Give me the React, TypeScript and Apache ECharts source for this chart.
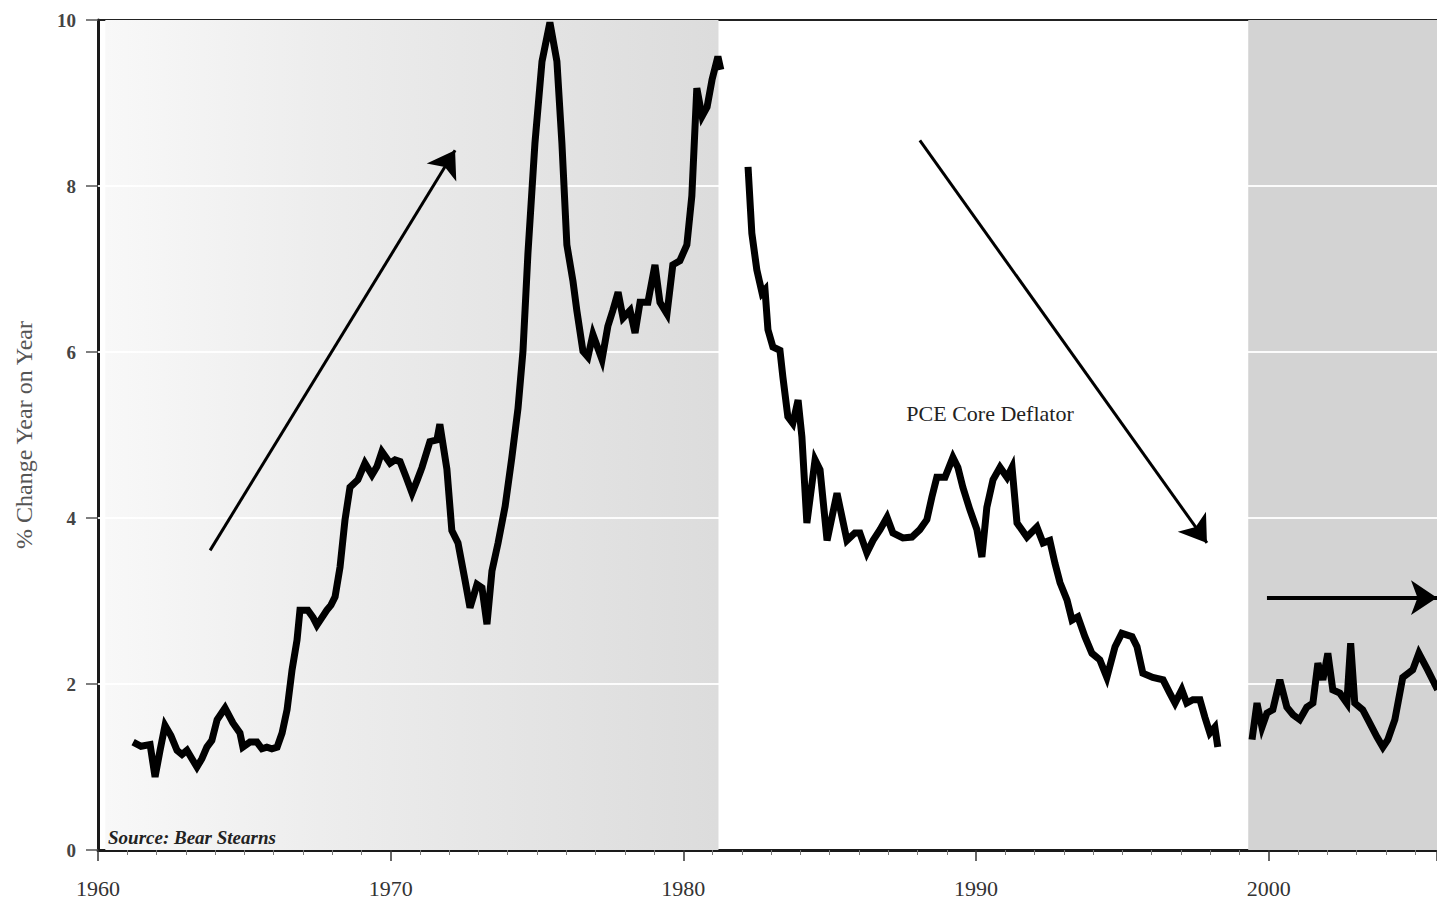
import React, { useEffect, useRef } from "react";
import * as echarts from "echarts";

// ---- Data ----
const seg1Years = [
  1961.2, 1961.47, 1961.78, 1961.95, 1962.12, 1962.29, 1962.49, 1962.7, 1962.87, 1963.04,
  1963.21, 1963.38, 1963.55, 1963.72, 1963.89, 1964.07, 1964.34, 1964.61, 1964.85, 1964.95,
  1965.19, 1965.43, 1965.6, 1965.77, 1965.94, 1966.12, 1966.29, 1966.46, 1966.63, 1966.8,
  1966.9, 1967.17, 1967.35, 1967.48, 1967.65, 1967.82, 1967.96, 1968.1, 1968.27, 1968.44,
  1968.61, 1968.88, 1969.12, 1969.36, 1969.53, 1969.7, 1969.98, 1970.15, 1970.32, 1970.52,
  1970.73, 1970.9, 1971.07, 1971.34, 1971.58, 1971.68, 1971.92, 1972.09, 1972.3, 1972.54,
  1972.71, 1972.95, 1973.12, 1973.29, 1973.46, 1973.67, 1973.91, 1974.14, 1974.35, 1974.52,
  1974.69, 1974.93, 1975.17, 1975.44, 1975.68, 1975.85, 1976.02, 1976.23, 1976.36, 1976.57,
  1976.74, 1976.91, 1977.22, 1977.42, 1977.59, 1977.77, 1977.94, 1978.18, 1978.35, 1978.52,
  1978.79, 1979.03, 1979.2, 1979.44, 1979.64, 1979.88, 1980.12, 1980.29, 1980.46, 1980.64,
  1980.81, 1980.98, 1981.18, 1981.28,
];
const seg1Values = [
  1.3, 1.25, 1.27, 0.88, 1.2, 1.5, 1.38, 1.2, 1.15, 1.2,
  1.1, 1.0, 1.1, 1.24, 1.32, 1.57, 1.71, 1.53, 1.41, 1.24,
  1.3, 1.3, 1.22, 1.24, 1.22, 1.24, 1.41, 1.69, 2.17, 2.53,
  2.89, 2.89, 2.8, 2.71, 2.8, 2.89, 2.95, 3.05, 3.41, 3.98,
  4.37, 4.46, 4.66, 4.52, 4.62, 4.8, 4.66, 4.7, 4.68, 4.5,
  4.3, 4.45, 4.61, 4.92, 4.94, 5.13, 4.59, 3.85, 3.7, 3.25,
  2.92, 3.2, 3.16, 2.72, 3.36, 3.7, 4.14, 4.73, 5.32, 6.01,
  7.19, 8.52, 9.5, 9.97, 9.5, 8.52, 7.29, 6.85, 6.5, 6.01,
  5.94, 6.21, 5.91, 6.31, 6.5, 6.72, 6.41, 6.5, 6.23, 6.6,
  6.6, 7.05, 6.6, 6.46, 7.05, 7.1, 7.29, 7.88, 9.18, 8.84,
  8.95, 9.28, 9.56, 9.4,
];

const seg2Years = [
  1982.21, 1982.34, 1982.51, 1982.69, 1982.79, 1982.89, 1983.06, 1983.3, 1983.4, 1983.57,
  1983.74, 1983.92, 1984.05, 1984.22, 1984.5, 1984.67, 1984.91, 1985.25, 1985.35, 1985.59,
  1985.86, 1986.03, 1986.27, 1986.48, 1986.72, 1986.96, 1987.16, 1987.5, 1987.81, 1988.08,
  1988.32, 1988.49, 1988.66, 1988.94, 1989.21, 1989.38, 1989.55, 1989.79, 1990.03, 1990.2,
  1990.37, 1990.58, 1990.82, 1991.06, 1991.23, 1991.4, 1991.74, 1992.08, 1992.29, 1992.52,
  1992.7, 1992.87, 1993.11, 1993.28, 1993.48, 1993.72, 1993.96, 1994.23, 1994.47, 1994.75,
  1994.98, 1995.33, 1995.5, 1995.7, 1996.04, 1996.39, 1996.62, 1996.8, 1997.03, 1997.2,
  1997.41, 1997.65, 1997.82, 1997.99, 1998.16, 1998.26,
];
const seg2Values = [
  8.23, 7.43, 6.99, 6.71, 6.75, 6.27, 6.06, 6.02, 5.7, 5.22,
  5.14, 5.42, 4.98, 3.94, 4.7, 4.58, 3.73, 4.3, 4.13, 3.73,
  3.82, 3.82, 3.58, 3.73, 3.86, 4.01, 3.82, 3.76, 3.77, 3.86,
  3.98, 4.25, 4.49, 4.49, 4.73, 4.61, 4.37, 4.1, 3.86, 3.53,
  4.13, 4.46, 4.61, 4.49, 4.61, 3.94, 3.77, 3.89, 3.7, 3.73,
  3.45, 3.22, 3.01, 2.77, 2.81, 2.57, 2.37, 2.29, 2.08, 2.45,
  2.61, 2.57, 2.45, 2.13, 2.08, 2.05, 1.89, 1.77, 1.93, 1.77,
  1.81, 1.81, 1.6, 1.41, 1.48, 1.24,
];

const seg3Years = [
  1999.43, 1999.6, 1999.77, 1999.94, 2000.14, 2000.38, 2000.62, 2000.83, 2001.06, 2001.3,
  2001.51, 2001.68, 2001.85, 2002.02, 2002.19, 2002.43, 2002.67, 2002.8, 2002.94, 2003.21,
  2003.39, 2003.7, 2003.9, 2004.07, 2004.31, 2004.58, 2004.92, 2005.13, 2005.43, 2005.77,
];
const seg3Values = [
  1.33, 1.77, 1.48, 1.65, 1.69, 2.05, 1.72, 1.63, 1.57, 1.72,
  1.77, 2.25, 2.05, 2.37, 1.93, 1.89, 1.77, 2.49, 1.77, 1.69,
  1.57, 1.36, 1.24, 1.33, 1.57, 2.08, 2.17, 2.37, 2.17, 1.93,
];

// Trend arrows: [startYear, startValue, endYear, endValue]
const arrowUp = [1963.83, 3.61, 1972.2, 8.43];
const arrowDown = [1988.08, 8.55, 1997.89, 3.7];
const arrowFlat = [1999.94, 3.04, 2005.75, 3.04];

// Shaded periods: [fromYear, toYear]
const shadeEarly = [1960.25, 1981.2];
const shadeLate = [1999.3, 2005.75];

const yTicks = [2, 4, 6, 8];
const seriesName = "PCE Core Deflator";
const sourceText = "Source: Bear Stearns";
const yAxisName = "% Change Year on Year";

const SERIF = "'Liberation Serif', 'DejaVu Serif', serif";

const zip = (xs: number[], ys: number[]) => xs.map((x, i) => [x, ys[i]]);

export default function App() {
  const ref = useRef<HTMLDivElement>(null);

  useEffect(() => {
    if (!ref.current) return;
    const chart = echarts.init(ref.current, undefined, { renderer: "svg" });

    const lineSeries = (data: number[][]) => ({
      type: "line",
      data,
      showSymbol: false,
      z: 5,
      lineStyle: { color: "#000", width: 7, join: "miter" },
      silent: true,
    });

    const arrow = (a: number[], w: number) => [
      { coord: [a[0], a[1]], lineStyle: { width: w, color: "#000", type: "solid" } },
      { coord: [a[2], a[3]] },
    ];

    const option: any = {
      animation: false,
      backgroundColor: "#ffffff",
      grid: { left: 98, right: 0, top: 20, bottom: 53 },
      xAxis: [
        {
          type: "value",
          min: 1960,
          max: 2005.75,
          interval: 10,
          axisLine: { show: true, lineStyle: { color: "#1a1a1a", width: 3 } },
          axisTick: { show: true, length: 11, lineStyle: { color: "#333", width: 1.5 } },
          minorTick: { show: true, splitNumber: 10, length: 5, lineStyle: { color: "#777", width: 1 } },
          splitLine: { show: false },
          axisLabel: {
            showMaxLabel: false,
            margin: 27,
            fontFamily: SERIF,
            fontSize: 22,
            color: "#333",
            formatter: (v: number) => (Math.abs(v % 10) < 1e-6 ? String(v) : ""),
          },
        },
        {
          type: "value",
          position: "top",
          min: 1960,
          max: 2005.75,
          axisLine: { show: true, lineStyle: { color: "#222", width: 2 } },
          axisTick: { show: false },
          axisLabel: { show: false },
          splitLine: { show: false },
        },
      ],
      yAxis: {
        type: "value",
        min: 0,
        max: 10,
        interval: 2,
        name: yAxisName,
        nameLocation: "middle",
        nameGap: 62,
        nameTextStyle: { fontFamily: SERIF, fontSize: 24, color: "#555" },
        axisLine: { show: true, lineStyle: { color: "#1a1a1a", width: 3 } },
        axisTick: { show: true, length: 12, lineStyle: { color: "#555", width: 1.5 } },
        splitLine: { show: false },
        axisLabel: {
          margin: 22,
          fontFamily: SERIF,
          fontSize: 19,
          fontWeight: "bold",
          color: "#444",
        },
      },
      series: [
        {
          type: "line",
          data: [],
          z: 1,
          silent: true,
          markArea: {
            silent: true,
            data: [
              [
                {
                  xAxis: shadeEarly[0],
                  yAxis: 0,
                  itemStyle: {
                    color: {
                      type: "linear",
                      x: 0,
                      y: 0,
                      x2: 1,
                      y2: 0,
                      colorStops: [
                        { offset: 0, color: "#f8f8f8" },
                        { offset: 0.35, color: "#ededed" },
                        { offset: 1, color: "#dcdcdc" },
                      ],
                    },
                  },
                },
                { xAxis: shadeEarly[1], yAxis: 10 },
              ],
              [
                { xAxis: shadeLate[0], yAxis: 0, itemStyle: { color: "#d3d3d3" } },
                { xAxis: shadeLate[1], yAxis: 10 },
              ],
            ],
          },
        },
        {
          type: "line",
          data: [],
          z: 2,
          silent: true,
          markLine: {
            silent: true,
            symbol: ["none", "none"],
            label: { show: false },
            lineStyle: { color: "#ffffff", width: 2, type: "solid", opacity: 0.9 },
            data: yTicks.map((v) => ({ yAxis: v })),
          },
        },
        { ...lineSeries(zip(seg1Years, seg1Values)), name: seriesName },
        { ...lineSeries(zip(seg2Years, seg2Values)), name: seriesName },
        { ...lineSeries(zip(seg3Years, seg3Values)), name: seriesName },
        {
          type: "line",
          data: [],
          z: 6,
          silent: true,
          markLine: {
            silent: true,
            symbol: ["none", "arrow"],
            symbolSize: 26,
            label: { show: false },
            lineStyle: { color: "#000", width: 3, type: "solid" },
            data: [arrow(arrowUp, 3), arrow(arrowDown, 3), arrow(arrowFlat, 4)],
          },
        },
      ],
      graphic: [
        {
          type: "text",
          x: 990,
          y: 413,
          z: 10,
          style: {
            text: seriesName,
            fontFamily: SERIF,
            fontSize: 22,
            fill: "#222",
            align: "center",
            verticalAlign: "middle",
          },
        },
        {
          type: "text",
          x: 108,
          y: 837,
          z: 10,
          style: {
            text: sourceText,
            fontFamily: SERIF,
            fontSize: 19,
            fontStyle: "italic",
            fontWeight: "bold",
            fill: "#222",
            align: "left",
            verticalAlign: "middle",
          },
        },
      ],
    };

    chart.setOption(option);
    return () => chart.dispose();
  }, []);

  return (
    <div
      ref={ref}
      style={{ position: "fixed", left: 0, top: 0, width: 1437, height: 903, background: "#fff" }}
    />
  );
}
